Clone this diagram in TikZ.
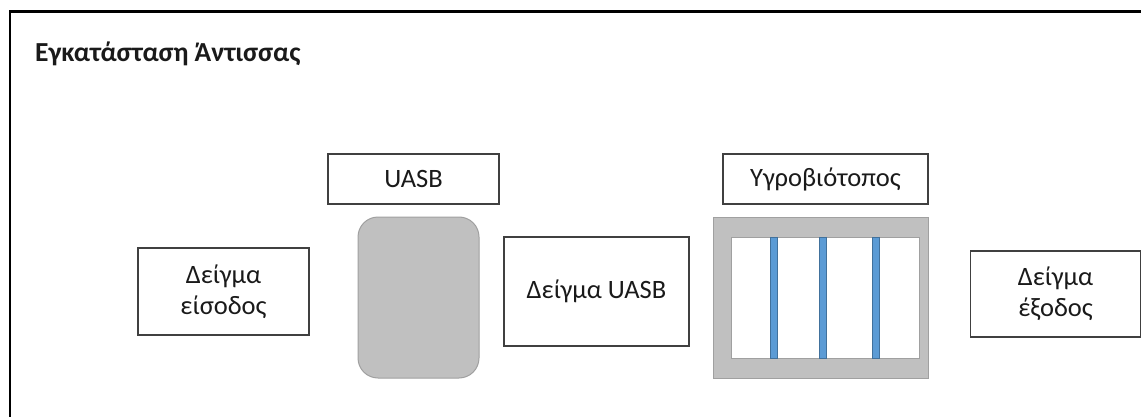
\documentclass[tikz,border=0pt]{standalone}
\usepackage{fontspec}
\setmainfont{Carlito}
\definecolor{boxline}{HTML}{404040}
\definecolor{tankgray}{HTML}{C0C0C0}
\definecolor{tankline}{HTML}{A0A0A0}
\definecolor{reed}{HTML}{5B9BD5}
\definecolor{reedline}{HTML}{41719C}
\definecolor{ink}{HTML}{1A1A1A}
\tikzset{
  labelbox/.style={draw=boxline, line width=1.3pt, fill=white, inner sep=0pt,
    align=center, text=ink, font=\fontsize{26.5}{31}\selectfont},
  tank/.style={draw=tankline, line width=1pt, fill=tankgray, inner sep=0pt},
  reedbar/.style={draw=reedline, line width=0.8pt, fill=reed, inner sep=0pt,
    minimum width=7pt, minimum height=121pt}
}
\begin{document}
\begin{tikzpicture}[x=1pt,y=-1pt]
\useasboundingbox (0,0) rectangle (1141,417);
\clip (0,0) rectangle (1141,417);
% outer frame (open to the right and bottom)
\coordinate (fb) at (10,430);
\coordinate (ft) at (1160,11.5);
\draw[line width=2.2pt, black] (fb) |- (ft);
% title
\node[anchor=base west, inner sep=0pt, text=ink,
  font=\fontsize{27.5}{32}\selectfont\bfseries] (title) at (35,61.7)
  {Εγκατάσταση Άντισσας};
% sample boxes
\node[labelbox, minimum width=171pt, minimum height=87pt] (in) at (223.5,291.5)
  {Δείγμα\\είσοδος};
\node[labelbox, minimum width=185pt, minimum height=109pt] (mid) at (596.5,291.5)
  {Δείγμα UASB};
\node[labelbox, minimum width=170pt, minimum height=86pt] (out) at (1055.5,294)
  {Δείγμα\\έξοδος};
% UASB reactor
\node[labelbox, minimum width=171pt, minimum height=50pt] (uasbl) at (413.5,179)
  {UASB};
\node[tank, rounded corners=20pt, minimum width=121pt, minimum height=161pt]
  (uasb) at (418.5,297.5) {};
% constructed wetland
\node[labelbox, minimum width=205pt, minimum height=50pt] (wetl) at (825.5,179)
  {Υγροβιότοπος};
\node[tank, minimum width=215pt, minimum height=161pt] (wet) at (820.5,297.5) {};
\node[draw=tankline, line width=0.8pt, fill=white, inner sep=0pt,
  minimum width=188pt, minimum height=121pt] (bed) at (825,297.5) {};
\node[reedbar] (r1) at (774,297.5) {};
\node[reedbar] (r2) at (823,297.5) {};
\node[reedbar] (r3) at (876,297.5) {};
\end{tikzpicture}
\end{document}
